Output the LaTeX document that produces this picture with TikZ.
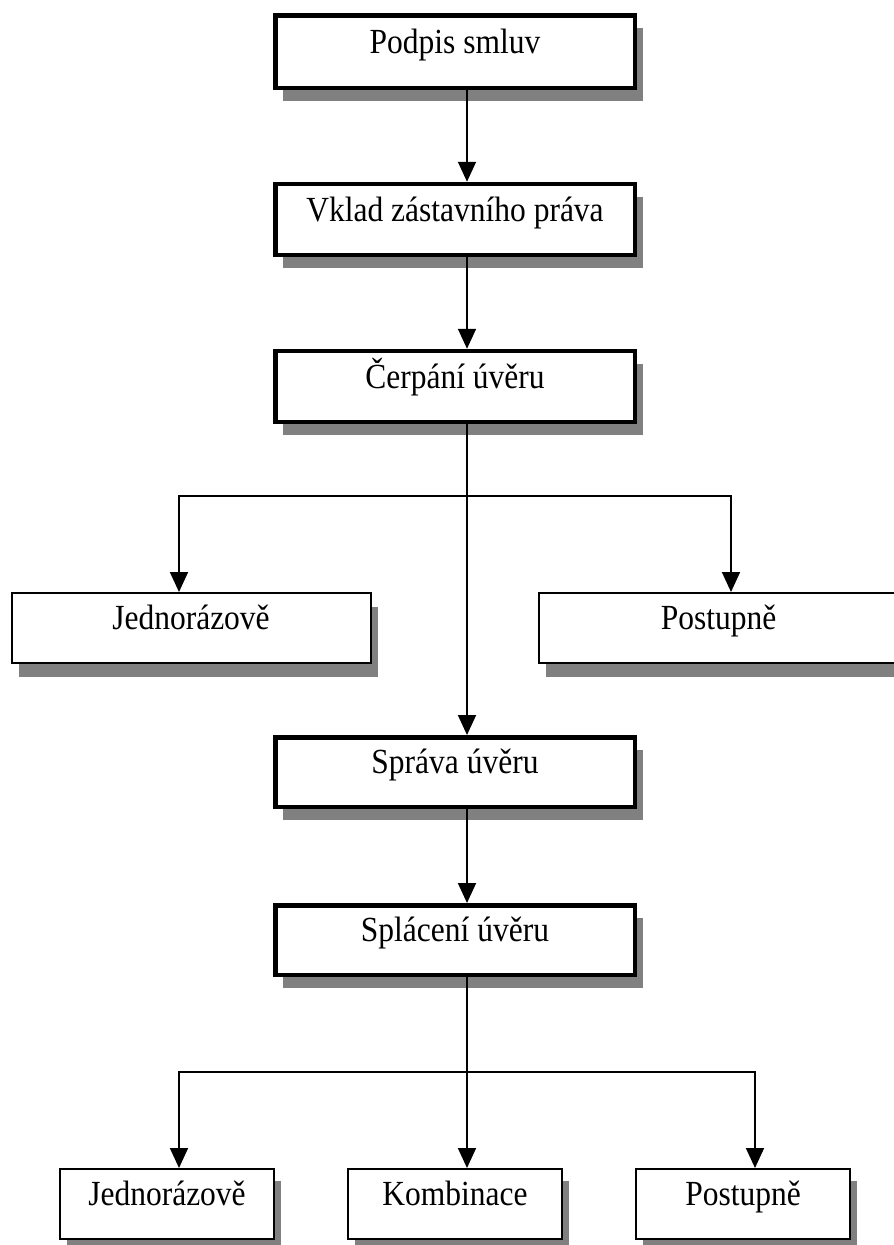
\documentclass[tikz,border=0pt]{standalone}
\usepackage{fontspec}
\setmainfont{Liberation Serif}
\usetikzlibrary{arrows.meta,shadows}
\newcommand{\tallt}[1]{\scalebox{1}[1.12]{#1}}
\begin{document}
\begin{tikzpicture}[x=1pt,y=-1pt,
  every node/.style={font=\fontsize{31.5}{36}\selectfont, text height=0.75em, text depth=0.4em, inner sep=0pt},
  thickbox/.style={draw=black, line width=4.5pt, fill=white, minimum width=359.5pt, minimum height=71pt,
    drop shadow={shadow xshift=8pt, shadow yshift=-13pt, fill=gray, opacity=1}},
  midbox/.style={draw=black, line width=2pt, fill=white, minimum width=359pt, minimum height=70pt,
    drop shadow={shadow xshift=7pt, shadow yshift=-14pt, fill=gray, opacity=1}},
  lowbox/.style={draw=black, line width=2pt, fill=white, minimum width=214pt, minimum height=70pt,
    drop shadow={shadow xshift=7pt, shadow yshift=-12pt, fill=gray, opacity=1}},
  conn/.style={draw=black, line width=1.8pt},
  arr/.style={conn, -{Triangle[length=20pt, width=18pt]}}
]
\useasboundingbox (0,0) rectangle (894,1245);

% boxes
\node[thickbox, minimum height=72.5pt] (p1) at (455,51.5) {\tallt{Podpis smluv}};
\node[thickbox] (p2) at (455,219.5) {\tallt{Vklad zástavního práva}};
\node[thickbox] (p3) at (455,386.5) {\tallt{Čerpání úvěru}};
\node[midbox] (m1) at (191,628) {\tallt{Jednorázově}};
\node[midbox] (m2) at (718.5,628) {\tallt{Postupně}};
\node[thickbox, minimum height=69.5pt] (p4) at (455,772) {\tallt{Správa úvěru}};
\node[thickbox, minimum height=69.5pt] (p5) at (455,940) {\tallt{Splácení úvěru}};
\node[lowbox] (b1) at (167,1204) {\tallt{Jednorázově}};
\node[lowbox] (b2) at (455,1204) {\tallt{Kombinace}};
\node[lowbox] (b3) at (743,1204) {\tallt{Postupně}};

% guide coordinates
\coordinate (trunk) at (467,0);
\coordinate (xl) at (179,0);
\coordinate (xr) at (731,0);
\coordinate (xr2) at (755,0);
\coordinate (j1) at (467,496);
\coordinate (j2) at (467,1072);

% connectors
\draw[arr] (p1.south -| trunk) -- (p2.north -| trunk);
\draw[arr] (p2.south -| trunk) -- (p3.north -| trunk);
\draw[arr] (p3.south -| trunk) -- (p4.north -| trunk);
\draw[arr] (j1) -| (m1.north -| xl);
\draw[arr] (j1) -| (m2.north -| xr);
\draw[arr] (p4.south -| trunk) -- (p5.north -| trunk);
\draw[conn] (p5.south -| trunk) -- (j2);
\draw[arr] (j2) -| (b1.north -| xl);
\draw[arr] (j2) -- (b2.north -| trunk);
\draw[arr] (j2) -| (b3.north -| xr2);
\end{tikzpicture}
\end{document}
